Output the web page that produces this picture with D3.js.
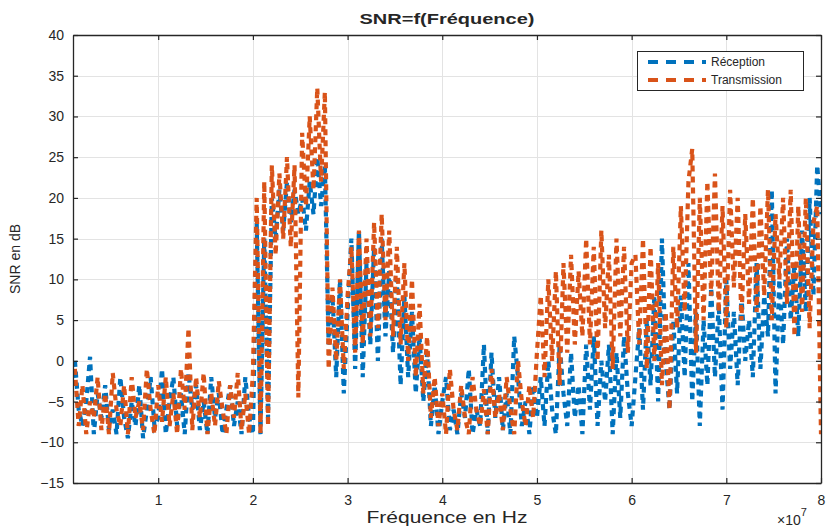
<!DOCTYPE html>
<html>
<head>
<meta charset="utf-8">
<script src="https://cdn.jsdelivr.net/npm/d3@7"></script>
<style>
  html, body { margin: 0; padding: 0; background: #ffffff; }
  svg { display: block; }
  text { font-family: "Liberation Sans", Arial, sans-serif; fill: #262626; }
</style>
</head>
<body>
<svg id="chart" width="826" height="527"></svg>
<script>
// ---- data ----
const title = "SNR=f(Fréquence)";
const xLabel = "Fréquence en Hz";
const yLabel = "SNR en dB";
const seriesNames = ["Réception", "Transmission"];
const xTicks = [1, 2, 3, 4, 5, 6, 7, 8];            // in units of 1e7 Hz
const yTicks = [-15, -10, -5, 0, 5, 10, 15, 20, 25, 30, 35, 40];
const freqStart = 0.12e7;   // first sample (Hz)
const freqStep = 0.04e7;    // sample spacing (Hz)

const reception = [
  0, -6, -8, -5, 0.5, -9, -4, -7,
  -3, -8.5, -6, -9, -2, -7, -9.5, -5,
  -8, -3, -9.5, -6, -2, -8, -7, -1,
  -9, -5, -2, -8, -4, -9, -1.5, -6,
  -3, -8.5, -5, -9, -2, -7, -4, -9,
  -6, -3, -8, -5, -9, -2, -7, -9,
  17, -9, 15, -7,
  20, 15, 21, 16, 22, 17, 21, 18,
  20, 16, 22, 18, 25, 19, 24, 2,
  8, -2, 10, -4, 6,
  15, -1, 16, -2, 12, 2, 14, 0, 15, 3, 11, 1, 10,
  -3, 8, -2, 6, -4, 3, -5, 1,
  -8, -3, -9, -5, -2, -8.5, -6, -9, -4, -7,
  -1, -9, -6, -8, 2, -9, 1, -7, -2, -8.5,
  -4, -9, 3, -2, -8, -5, -9, -3, -7,
  -2, -8, 0, -6, -9, 2, -4, -8, 1, -7, -3, -9,
  2, -6, 3, -8, 0, -5, 2, -9, 1, -7, 3, -4, -8,
  -2, 4, -6, 5, -3, 8, -5, 15, 0, -6,
  5, -4, 8, -2, 12, -5, 6,
  -8, 5, -3, 9, -2, 7, -6, 10, -1, 6, -3, 8, 0, 5, -2,
  12, -1, 8, 3, 21, -4, 10, 2, 15, 5,
  12, 3, 16, 6, 20, 8, 24, 18
];

const transmission = [
  -1, -8, -3, -9, -5, -7, -2, -8.5,
  -4, -9, -1.5, -6, -8, -3, -9, -2,
  -7, -5, -8.5, -1, -6, -9, -3, -7.5,
  -2, -8, -4, -9, -1, -6, 4, -8.5,
  -2, -7, -1.5, -9, -4, -8, -2.5, -6,
  -9, -3, -7, -1.5, -8.5, -4, -9, -1.5,
  20, -9, 22, -8,
  24, 13, 23, 15, 25, 14, 24, -4.5,
  28, 19, 30, 21, 33.5, 22, 33, -1,
  9, 0, 10, -1, 8,
  14, 1, 16, 2, 15, 3, 17, 4, 18, 5, 16, 3, 14,
  2, 12, 0, 10, -2, 7, -4, 3,
  -7, -2, -8, -4, -9, -1, -6, -8.5, -3, -7,
  -9, -2, -6, -8, -3.5, -9, -1, -7, -4, -8.5,
  -2, -6, -9, 0, -5, -8, -3, -7, 1,
  8, -2, 10, 0, 11, -3, 12, 1, 13, 2, 11, 3,
  15, 2, 14, 0, 16, 4, 13, -1, 15, 3, 14, 1, 12,
  13, 2, 15, -1, 14, 0, 12, -3, 6, -6,
  14, 4, 19, 6, 22, 26, 1,
  20, 5, 22, 8, 23, 6, 19, 4, 21, 9, 20, 5, 18, 7, 20,
  6, 19, 8, 21, 5, 18, 10, 20, 7, 21,
  3, 19, 6, 20, 4, 17, 19, -9
];

const colors = ["#0072BD", "#D95319"];

// ---- layout ----
const svg = d3.select("#chart");
const plot = { left: 73, right: 821, top: 35, bottom: 483 };

const x = d3.scaleLinear().domain([0.1e7, 8e7]).range([plot.left, plot.right]);
const y = d3.scaleLinear().domain([-15, 40]).range([plot.bottom, plot.top]);

const freq = reception.map((_, i) => freqStart + i * freqStep);

// grid
const grid = svg.append("g").attr("stroke", "#e3e3e3").attr("stroke-width", 1);
xTicks.forEach(t => {
  grid.append("line")
    .attr("x1", Math.round(x(t * 1e7)) + 0.5).attr("x2", Math.round(x(t * 1e7)) + 0.5)
    .attr("y1", plot.top).attr("y2", plot.bottom);
});
yTicks.forEach(t => {
  grid.append("line")
    .attr("y1", Math.round(y(t)) + 0.5).attr("y2", Math.round(y(t)) + 0.5)
    .attr("x1", plot.left).attr("x2", plot.right);
});

// clip
svg.append("clipPath").attr("id", "clip")
  .append("rect")
  .attr("x", plot.left).attr("y", plot.top)
  .attr("width", plot.right - plot.left).attr("height", plot.bottom - plot.top);

const line = d3.line().x((d, i) => x(freq[i])).y(d => y(d));

const seriesData = [reception, transmission];
seriesData.forEach((s, k) => {
  svg.append("path")
    .datum(s)
    .attr("clip-path", "url(#clip)")
    .attr("fill", "none")
    .attr("stroke", colors[k])
    .attr("stroke-width", 4.2)
    .attr("stroke-dasharray", "6,5")
    .attr("stroke-linejoin", "miter")
    .attr("d", line);
});

// axes (box with inward ticks on all sides)
const axisColor = "#262626";
const tickLen = 5;
const axB = svg.append("g").attr("transform", `translate(0,${plot.bottom})`)
  .call(d3.axisBottom(x).tickValues(xTicks.map(t => t * 1e7)).tickFormat(d => d / 1e7)
    .tickSizeInner(-tickLen).tickSizeOuter(0).tickPadding(12));
const axT = svg.append("g").attr("transform", `translate(0,${plot.top})`)
  .call(d3.axisTop(x).tickValues(xTicks.map(t => t * 1e7)).tickFormat("")
    .tickSizeInner(-tickLen).tickSizeOuter(0));
const axL = svg.append("g").attr("transform", `translate(${plot.left},0)`)
  .call(d3.axisLeft(y).tickValues(yTicks).tickSizeInner(-tickLen).tickSizeOuter(0).tickPadding(9));
const axR = svg.append("g").attr("transform", `translate(${plot.right},0)`)
  .call(d3.axisRight(y).tickValues(yTicks).tickFormat("").tickSizeInner(-tickLen).tickSizeOuter(0));

[axB, axT, axL, axR].forEach(a => {
  a.select(".domain").attr("stroke", axisColor).attr("stroke-width", 1.3);
  a.selectAll(".tick line").attr("stroke", axisColor).attr("stroke-width", 1.2);
  a.selectAll(".tick text").attr("fill", "#262626")
    .style("font-family", "'Liberation Sans', Arial, sans-serif").style("font-size", "14px");
});

// exponent label
const expo = svg.append("text").attr("x", 777).attr("y", 525)
  .style("font-size", "14px");
expo.append("tspan").text("×10");
expo.append("tspan").attr("dy", -9).style("font-size", "11px").text("7");

// labels
svg.append("text")
  .attr("x", (plot.left + plot.right) / 2).attr("y", 24)
  .attr("text-anchor", "middle")
  .style("font-size", "15px").style("font-weight", "bold")
  .attr("textLength", 175).attr("lengthAdjust", "spacingAndGlyphs")
  .text(title);

svg.append("text")
  .attr("x", (plot.left + plot.right) / 2).attr("y", 523)
  .attr("text-anchor", "middle")
  .style("font-size", "16px")
  .attr("textLength", 161).attr("lengthAdjust", "spacingAndGlyphs")
  .text(xLabel);

svg.append("text")
  .attr("transform", `translate(20,${(plot.top + plot.bottom) / 2}) rotate(-90)`)
  .attr("text-anchor", "middle")
  .style("font-size", "14px")
  .text(yLabel);

// legend
const lg = svg.append("g");
lg.append("rect")
  .attr("x", 637.5).attr("y", 51.5).attr("width", 166).attr("height", 39)
  .attr("fill", "#ffffff").attr("stroke", axisColor).attr("stroke-width", 1);
seriesNames.forEach((name, k) => {
  const yy = 62 + k * 18;
  lg.append("line")
    .attr("x1", 648).attr("x2", 706).attr("y1", yy).attr("y2", yy)
    .attr("stroke", colors[k]).attr("stroke-width", 4)
    .attr("stroke-dasharray", "10,8");
  lg.append("text")
    .attr("x", 711).attr("y", yy + 4)
    .style("font-size", "12px")
    .text(name);
});
</script>
</body>
</html>
